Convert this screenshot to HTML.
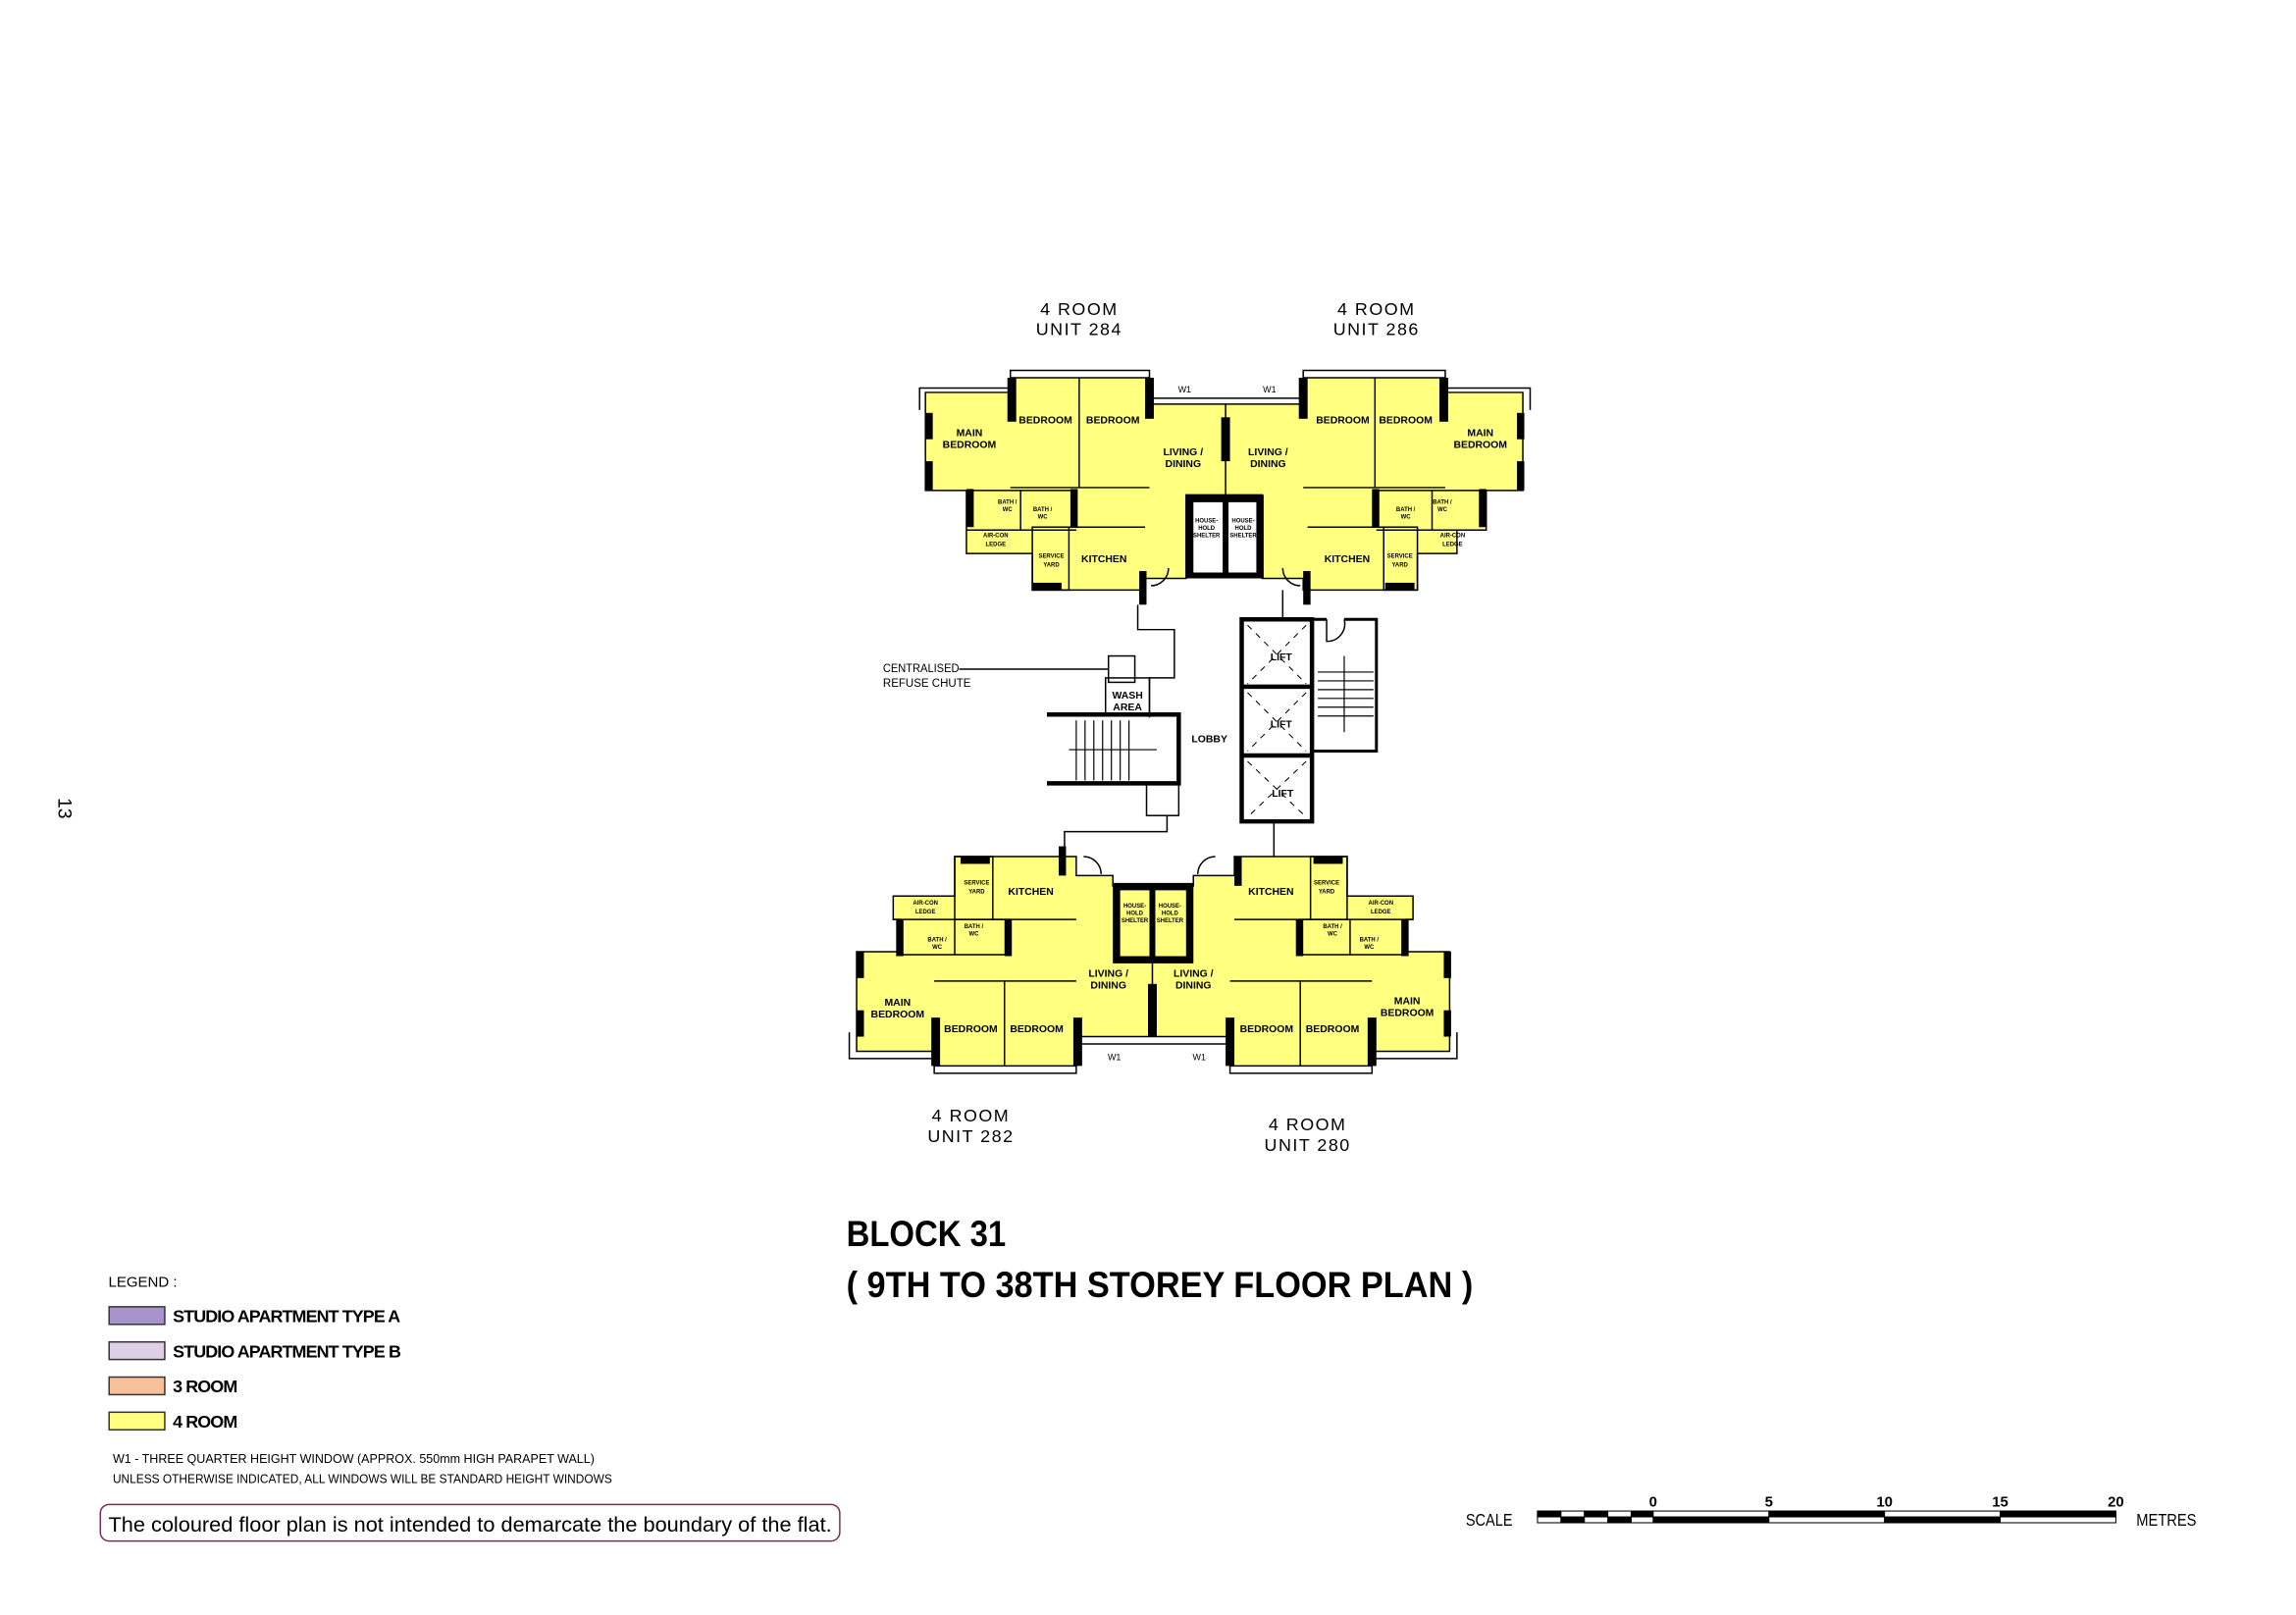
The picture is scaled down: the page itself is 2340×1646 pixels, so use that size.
<!DOCTYPE html>
<html><head><meta charset="utf-8"><style>
html,body{margin:0;padding:0;background:#fff}
svg{display:block}
text{font-family:"Liberation Sans",sans-serif}
.n{font-family:"Liberation Sans Narrow","Liberation Sans",sans-serif}
.r{font-size:7px;font-weight:bold;text-anchor:middle}
.s{font-size:4px;font-weight:bold;text-anchor:middle}
.u{font-size:12px;text-anchor:middle;letter-spacing:1px}
</style></head><body>
<svg width="2340" height="1646" viewBox="0 0 1568 1103" xmlns="http://www.w3.org/2000/svg">
<rect width="1568" height="1103" fill="#fff"/>
<text x="40" y="552" transform="rotate(90 40 552)" font-size="13" text-anchor="middle">13</text>

<!-- TOP BLOCK -->
<g stroke="#000" stroke-width="1">
<polygon fill="#ffff80" points="632,268 690,268 690,258 785,258 785,276 890,276 890,258 987,258 987,268 1040,268 1040,335 1015,335 1015,362 995,362 995,378 968,378 968,403 890,403 890,395 862,395 862,338 810,338 810,395 782,395 782,403 705,403 705,378 660,378 660,362 660,335 632,335"/>
<polyline fill="none" points="628,280 628,265 690,265 690,253 785,253 785,272 890,272 890,253 987,253 987,265 1045,265 1045,280"/>
<line x1="690" y1="333" x2="785" y2="333"/><line x1="890" y1="333" x2="987" y2="333"/>
<line x1="737" y1="258" x2="737" y2="333"/><line x1="939" y1="258" x2="939" y2="333"/>
<line x1="660" y1="335" x2="735" y2="335"/><line x1="940" y1="335" x2="1015" y2="335"/>
<line x1="697" y1="335" x2="697" y2="362"/><line x1="978" y1="335" x2="978" y2="362"/>
<line x1="660" y1="362" x2="735" y2="362"/><line x1="940" y1="362" x2="1015" y2="362"/>
<rect x="705" y="360" width="25" height="43" fill="none"/><rect x="945" y="360" width="23" height="43" fill="none"/>
<line x1="730" y1="360" x2="782" y2="360"/><line x1="893" y1="360" x2="945" y2="360"/>
<line x1="837" y1="276" x2="837" y2="338"/>
</g>
<g fill="#000">
<rect x="688" y="258" width="6" height="30"/><rect x="782" y="258" width="6" height="28"/>
<rect x="887" y="258" width="6" height="28"/><rect x="983" y="258" width="6" height="30"/>
<rect x="632" y="282" width="5" height="18"/><rect x="632" y="315" width="5" height="20"/>
<rect x="1036" y="282" width="5" height="18"/><rect x="1036" y="315" width="5" height="20"/>
<rect x="834" y="285" width="6" height="30"/>
<rect x="660" y="334" width="5" height="26"/><rect x="731" y="334" width="5" height="26"/>
<rect x="937" y="334" width="5" height="26"/><rect x="1010" y="334" width="5" height="26"/>
<rect x="705" y="398" width="20" height="5"/><rect x="946" y="398" width="20" height="5"/>
<rect x="778" y="390" width="5" height="23"/><rect x="890" y="390" width="5" height="23"/>
<path d="M810 338h53v57h-53zM815 343v48h20v-48zM839 343v48h19v-48z" fill-rule="evenodd"/>
</g>
<g class="r"><text x="662" y="298">MAIN</text><text x="662" y="306">BEDROOM</text>
<text x="714" y="289">BEDROOM</text><text x="760" y="289">BEDROOM</text>
<text x="808" y="311">LIVING /</text><text x="808" y="319">DINING</text>
<text x="866" y="311">LIVING /</text><text x="866" y="319">DINING</text>
<text x="917" y="289">BEDROOM</text><text x="960" y="289">BEDROOM</text>
<text x="1011" y="298">MAIN</text><text x="1011" y="306">BEDROOM</text>
<text x="754" y="384">KITCHEN</text><text x="920" y="384">KITCHEN</text></g>
<g class="s"><text x="688" y="344">BATH /</text><text x="688" y="349">WC</text><text x="712" y="349">BATH /</text><text x="712" y="354">WC</text>
<text x="960" y="349">BATH /</text><text x="960" y="354">WC</text><text x="985" y="344">BATH /</text><text x="985" y="349">WC</text>
<text x="680" y="367">AIR-CON</text><text x="680" y="373">LEDGE</text><text x="992" y="367">AIR-CON</text><text x="992" y="373">LEDGE</text>
<text x="718" y="381">SERVICE</text><text x="718" y="387">YARD</text><text x="956" y="381">SERVICE</text><text x="956" y="387">YARD</text>
<text x="824" y="357">HOUSE-</text><text x="824" y="362">HOLD</text><text x="824" y="367">SHELTER</text>
<text x="849" y="357">HOUSE-</text><text x="849" y="362">HOLD</text><text x="849" y="367">SHELTER</text></g>
<text x="809" y="268" font-size="6" text-anchor="middle">W1</text><text x="867" y="268" font-size="6" text-anchor="middle">W1</text>

<!-- CORE -->
<g stroke="#000" fill="none" stroke-width="1">
<polyline points="777,413 777,430 802,430 802,463 785,463 785,490"/>
<rect x="757" y="448" width="18" height="18"/>
<line x1="655" y1="457" x2="757" y2="457"/>
<rect x="755" y="463" width="30" height="25"/>
<path d="M715 488h90v47h-90" stroke-width="3"/>
<g stroke-width=".8"><line x1="735" y1="492" x2="735" y2="533"/><line x1="741" y1="492" x2="741" y2="533"/><line x1="747" y1="492" x2="747" y2="533"/><line x1="753" y1="492" x2="753" y2="533"/><line x1="759" y1="492" x2="759" y2="533"/><line x1="765" y1="492" x2="765" y2="533"/><line x1="771" y1="492" x2="771" y2="533"/><line x1="730" y1="512" x2="790" y2="512"/></g>
<rect x="783" y="535" width="22" height="22"/><polyline points="797,557 797,568 727,568 727,585"/>
<path d="M848 423h48v138h-48zM848 469h48M848 516h48" stroke-width="3"/>
<g stroke-dasharray="4,4" stroke-width=".7"><path d="M852 427l40 40M892 427l-40 40M852 473l40 40M892 473l-40 40M852 520l40 38M892 520l-40 38"/></g>
<path d="M896 423h10M918 423h22v90h-44" stroke-width="2"/>
<g stroke-width=".8"><line x1="900" y1="459" x2="938" y2="459"/><line x1="900" y1="465" x2="938" y2="465"/><line x1="900" y1="471" x2="938" y2="471"/><line x1="900" y1="477" x2="938" y2="477"/><line x1="900" y1="483" x2="938" y2="483"/><line x1="900" y1="489" x2="938" y2="489"/><line x1="918" y1="448" x2="918" y2="500"/></g>
<path d="M906 423v15a12 12 0 0 0 12 -15"/><line x1="876" y1="403" x2="876" y2="423"/><line x1="870" y1="561" x2="870" y2="585"/>
<path d="M798 388a12 12 0 0 1 -12 12M876 388a12 12 0 0 0 12 12M740 585a12 12 0 0 1 12 12M830 585a12 12 0 0 0 -12 12"/>
</g>
<text x="603" y="459" font-size="8" class="n" textLength="52" lengthAdjust="spacingAndGlyphs">CENTRALISED</text><text x="603" y="469" font-size="8" class="n" textLength="60" lengthAdjust="spacingAndGlyphs">REFUSE CHUTE</text>
<g class="r"><text x="770" y="477">WASH</text><text x="770" y="485">AREA</text><text x="826" y="507">LOBBY</text>
<text x="875" y="451">LIFT</text><text x="875" y="497">LIFT</text><text x="876" y="544">LIFT</text></g>

<!-- BOTTOM BLOCK -->
<g stroke="#000" stroke-width="1">
<polygon fill="#ffff80" points="678,585 735,585 735,598 760,598 760,605 815,605 815,598 843,598 843,585 895,585 920,585 920,612 965,612 965,628 960,628 960,650 990,650 990,718 937,718 937,728 840,728 840,708 735,708 735,728 638,728 638,718 585,718 585,650 615,650 615,628 610,628 610,612 652,612 652,585"/>
<polyline fill="none" points="580,705 580,723 638,723 638,733 735,733 735,713 840,713 840,733 937,733 937,723 995,723 995,705"/>
<line x1="638" y1="670" x2="735" y2="670"/><line x1="840" y1="670" x2="937" y2="670"/>
<line x1="686" y1="670" x2="686" y2="728"/><line x1="888" y1="670" x2="888" y2="728"/>
<line x1="615" y1="652" x2="690" y2="652"/><line x1="887" y1="652" x2="960" y2="652"/>
<line x1="652" y1="628" x2="652" y2="652"/><line x1="922" y1="628" x2="922" y2="652"/>
<line x1="610" y1="628" x2="690" y2="628"/><line x1="887" y1="628" x2="965" y2="628"/>
<rect x="652" y="585" width="26" height="43" fill="none"/><rect x="895" y="585" width="25" height="43" fill="none"/>
<line x1="678" y1="628" x2="735" y2="628"/><line x1="843" y1="628" x2="895" y2="628"/>
<line x1="787" y1="650" x2="787" y2="708"/>
</g>
<g fill="#000">
<rect x="636" y="695" width="6" height="33"/><rect x="733" y="695" width="6" height="33"/>
<rect x="837" y="695" width="6" height="33"/><rect x="934" y="695" width="6" height="33"/>
<rect x="585" y="650" width="5" height="18"/><rect x="585" y="690" width="5" height="18"/>
<rect x="986" y="650" width="5" height="18"/><rect x="986" y="690" width="5" height="18"/>
<rect x="784" y="672" width="6" height="36"/>
<rect x="612" y="628" width="5" height="25"/><rect x="686" y="628" width="5" height="25"/>
<rect x="885" y="628" width="5" height="25"/><rect x="957" y="628" width="5" height="25"/>
<rect x="656" y="585" width="20" height="5"/><rect x="897" y="585" width="20" height="5"/>
<rect x="723" y="578" width="5" height="20"/><rect x="843" y="585" width="5" height="20"/>
<path d="M760 603h55v55h-55zM765 608v45h20v-45zM789 608v45h21v-45z" fill-rule="evenodd"/>
</g>
<g class="r"><text x="613" y="687">MAIN</text><text x="613" y="695">BEDROOM</text>
<text x="663" y="705">BEDROOM</text><text x="708" y="705">BEDROOM</text>
<text x="757" y="667">LIVING /</text><text x="757" y="675">DINING</text>
<text x="815" y="667">LIVING /</text><text x="815" y="675">DINING</text>
<text x="865" y="705">BEDROOM</text><text x="910" y="705">BEDROOM</text>
<text x="961" y="686">MAIN</text><text x="961" y="694">BEDROOM</text>
<text x="704" y="611">KITCHEN</text><text x="868" y="611">KITCHEN</text></g>
<g class="s"><text x="632" y="618">AIR-CON</text><text x="632" y="624">LEDGE</text><text x="943" y="618">AIR-CON</text><text x="943" y="624">LEDGE</text>
<text x="667" y="604">SERVICE</text><text x="667" y="610">YARD</text><text x="906" y="604">SERVICE</text><text x="906" y="610">YARD</text>
<text x="640" y="643">BATH /</text><text x="640" y="648">WC</text><text x="665" y="634">BATH /</text><text x="665" y="639">WC</text>
<text x="910" y="634">BATH /</text><text x="910" y="639">WC</text><text x="935" y="643">BATH /</text><text x="935" y="648">WC</text>
<text x="775" y="620">HOUSE-</text><text x="775" y="625">HOLD</text><text x="775" y="630">SHELTER</text>
<text x="799" y="620">HOUSE-</text><text x="799" y="625">HOLD</text><text x="799" y="630">SHELTER</text></g>
<text x="761" y="724" font-size="6" text-anchor="middle">W1</text><text x="819" y="724" font-size="6" text-anchor="middle">W1</text>

<g class="u n"><text x="737" y="215">4 ROOM</text><text x="737" y="229">UNIT 284</text>
<text x="940" y="215">4 ROOM</text><text x="940" y="229">UNIT 286</text>
<text x="663" y="766">4 ROOM</text><text x="663" y="780">UNIT 282</text>
<text x="893" y="772">4 ROOM</text><text x="893" y="786">UNIT 280</text></g>

<text x="578" y="851" font-size="25" font-weight="bold" textLength="109" lengthAdjust="spacingAndGlyphs">BLOCK 31</text>
<text x="578" y="886" font-size="25" font-weight="bold" textLength="428" lengthAdjust="spacingAndGlyphs">( 9TH TO 38TH STOREY FLOOR PLAN )</text>

<!-- LEGEND -->
<text x="74" y="879" font-size="10" class="n" textLength="47" lengthAdjust="spacingAndGlyphs">LEGEND :</text>
<rect x="74.5" y="892.5" width="38" height="12" fill="#a893cc" stroke="#333"/>
<rect x="74.5" y="916.5" width="38" height="12" fill="#dccfe6" stroke="#333"/>
<rect x="74.5" y="940.5" width="38" height="12" fill="#f8c09a" stroke="#333"/>
<rect x="74.5" y="964.5" width="38" height="12" fill="#ffff80" stroke="#333"/>
<g font-size="12" font-weight="bold" letter-spacing="-0.6"><text x="118" y="903">STUDIO APARTMENT TYPE A</text><text x="118" y="927">STUDIO APARTMENT TYPE B</text><text x="118" y="951">3 ROOM</text><text x="118" y="975">4 ROOM</text></g>
<text x="77" y="999" font-size="8.5" class="n" textLength="329" lengthAdjust="spacingAndGlyphs">W1  - THREE QUARTER HEIGHT WINDOW (APPROX. 550mm HIGH PARAPET WALL)</text>
<text x="77" y="1013" font-size="8.5" class="n" textLength="341" lengthAdjust="spacingAndGlyphs">UNLESS OTHERWISE INDICATED, ALL WINDOWS WILL BE STANDARD HEIGHT WINDOWS</text>
<rect x="68.5" y="1027.5" width="505" height="25" rx="6" fill="none" stroke="#7a3050"/>
<text x="74" y="1046" font-size="14" class="n" textLength="494" lengthAdjust="spacingAndGlyphs">The coloured floor plan is not intended to demarcate the boundary of the flat.</text>

<!-- SCALE -->
<text x="1001" y="1042" font-size="12" class="n" textLength="32" lengthAdjust="spacingAndGlyphs">SCALE</text>
<text x="1459" y="1042" font-size="12" class="n" textLength="41" lengthAdjust="spacingAndGlyphs">METRES</text>
<g stroke="#000" stroke-width=".7">
<rect x="1050" y="1032" width="395" height="8" fill="#fff"/>
<path d="M1050 1032h16v4h-16zM1082 1032h16v4h-16zM1114 1032h15v4h-15zM1066 1036h16v4h-16zM1098 1036h16v4h-16zM1129 1036h79v4h-79zM1208 1032h79v4h-79zM1287 1036h79v4h-79zM1366 1032h79v4h-79z" fill="#000"/>
</g>
<g font-size="10" font-weight="bold" text-anchor="middle" class="n"><text x="1129" y="1029">0</text><text x="1208" y="1029">5</text><text x="1287" y="1029">10</text><text x="1366" y="1029">15</text><text x="1445" y="1029">20</text></g>
</svg>
</body></html>
